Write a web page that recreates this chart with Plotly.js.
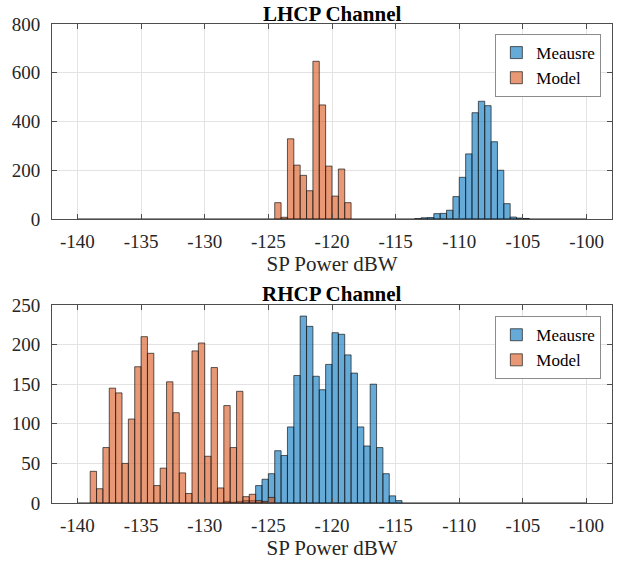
<!DOCTYPE html>
<html>
<head>
<meta charset="utf-8">
<script src="https://cdn.plot.ly/plotly-3.0.1.min.js"></script>
<style>html,body{margin:0;padding:0;background:#fff}#chart{width:624px;height:561px}</style>
</head>
<body>
<div id="chart"></div>
<script>
// bin width (dB) and tick labels
var binWidth = 0.5;
var xTickVals = [-140, -135, -130, -125, -120, -115, -110, -105, -100];
var xTickLabels = ['-140', '-135', '-130', '-125', '-120', '-115', '-110', '-105', '-100'];

// LHCP channel: first bin left edge and counts per 0.5 dB bin
var lhcpMeasureStart = -113.5;
var lhcpMeasureCounts = [1, 5, 6, 22, 23, 36, 92, 171, 267, 436, 483, 465, 317, 200, 63, 8, 4, 2];
var lhcpModelStart = -124.5;
var lhcpModelCounts = [67, 7, 329, 221, 179, 116, 647, 468, 217, 94, 205, 67];

// RHCP channel
var rhcpMeasureStart = -128.5;
var rhcpMeasureCounts = [2, 1, 2, 3, 3, 22, 30, 37, 66, 60, 96, 161, 236, 223, 160, 143, 175, 215, 213, 187, 164, 96, 72, 150, 70, 37, 9, 3];
var rhcpModelStart = -139;
var rhcpModelCounts = [40, 18, 70, 145, 139, 50, 106, 172, 210, 189, 22, 44, 153, 114, 38, 12, 192, 202, 59, 171, 19, 123, 70, 141, 8, 11, 3, 2, 7];

function centers(start, counts) {
  return counts.map(function (c, i) { return start + binWidth * i + binWidth / 2; });
}

var blueFill = 'rgba(0,114,189,0.6)';
var orangeFill = 'rgba(217,83,25,0.6)';
var edge = {color: 'rgba(20,20,20,0.85)', width: 0.8};
var font = 'Liberation Serif';

var traces = [
  {type: 'bar', name: 'Meausre', x: centers(lhcpMeasureStart, lhcpMeasureCounts), y: lhcpMeasureCounts,
   width: binWidth, marker: {color: blueFill, line: edge}, xaxis: 'x', yaxis: 'y', legend: 'legend'},
  {type: 'bar', name: 'Model', x: centers(lhcpModelStart, lhcpModelCounts), y: lhcpModelCounts,
   width: binWidth, marker: {color: orangeFill, line: edge}, xaxis: 'x', yaxis: 'y', legend: 'legend'},
  {type: 'bar', name: 'Meausre', x: centers(rhcpMeasureStart, rhcpMeasureCounts), y: rhcpMeasureCounts,
   width: binWidth, marker: {color: blueFill, line: edge}, xaxis: 'x2', yaxis: 'y2', legend: 'legend2'},
  {type: 'bar', name: 'Model', x: centers(rhcpModelStart, rhcpModelCounts), y: rhcpModelCounts,
   width: binWidth, marker: {color: orangeFill, line: edge}, xaxis: 'x2', yaxis: 'y2', legend: 'legend2'}
];

var axisLine = '#4d4d4d';
var gridCol = '#e3e3e3';
function xAxis(anchor) {
  return {
    anchor: anchor, domain: [0, 1], range: [-142, -98],
    tickmode: 'array', tickvals: xTickVals, ticktext: xTickLabels,
    ticks: 'inside', ticklen: 5, tickcolor: axisLine, mirror: 'ticks',
    showline: true, linecolor: axisLine, linewidth: 1,
    showgrid: true, gridcolor: gridCol, zeroline: false,
    tickfont: {family: font, size: 19, color: '#262626'},
    ticklabelstandoff: 5,
    title: {text: 'SP Power dBW', font: {family: font, size: 21, color: '#262626'}, standoff: 3}
  };
}
function yAxis(anchor, domain, range, dtick) {
  return {
    anchor: anchor, domain: domain, range: range, dtick: dtick, tick0: 0,
    ticks: 'inside', ticklen: 5, tickcolor: axisLine, mirror: 'ticks',
    showline: true, linecolor: axisLine, linewidth: 1,
    showgrid: true, gridcolor: gridCol, zeroline: false,
    tickfont: {family: font, size: 19, color: '#262626'},
    ticklabelstandoff: 7
  };
}
function legendBox(yTop) {
  return {
    x: 0.981, xanchor: 'right', y: yTop, yanchor: 'top',
    bgcolor: '#ffffff', bordercolor: '#8c8c8c', borderwidth: 1,
    font: {family: font, size: 17, color: '#000'}, tracegroupgap: 0, itemwidth: 30,
    entrywidth: 100, entrywidthmode: 'pixels'
  };
}

var layout = {
  width: 624, height: 561,
  margin: {l: 52, r: 12, t: 24, b: 58},
  paper_bgcolor: '#ffffff', plot_bgcolor: '#ffffff',
  barmode: 'overlay', bargap: 0,
  showlegend: true,
  xaxis: xAxis('y'),
  yaxis: yAxis('x', [0.5929, 1], [0, 800], 200),
  xaxis2: xAxis('y2'),
  yaxis2: yAxis('x2', [0, 0.4134], [0, 250], 50),
  legend: legendBox(0.979),
  legend2: legendBox(0.390),
  shapes: [
    {type: 'line', xref: 'x', yref: 'y', x0: -140, x1: -100, y0: 0, y1: 0, line: {color: '#222', width: 1}, layer: 'below'},
    {type: 'line', xref: 'x2', yref: 'y2', x0: -140, x1: -100, y0: 0, y1: 0, line: {color: '#222', width: 1}, layer: 'below'}
  ],
  annotations: [
    {text: '<b>LHCP Channel</b>', xref: 'paper', yref: 'paper', x: 0.5, y: 1.0501, xanchor: 'center', yanchor: 'top',
     showarrow: false, font: {family: font, size: 21, color: '#000'}},
    {text: '<b>RHCP Channel</b>', xref: 'paper', yref: 'paper', x: 0.5, y: 0.436, xanchor: 'center', yanchor: 'middle',
     showarrow: false, font: {family: font, size: 21, color: '#000'}}
  ]
};

Plotly.newPlot('chart', traces, layout, {displayModeBar: false, staticPlot: true});
</script>
</body>
</html>
